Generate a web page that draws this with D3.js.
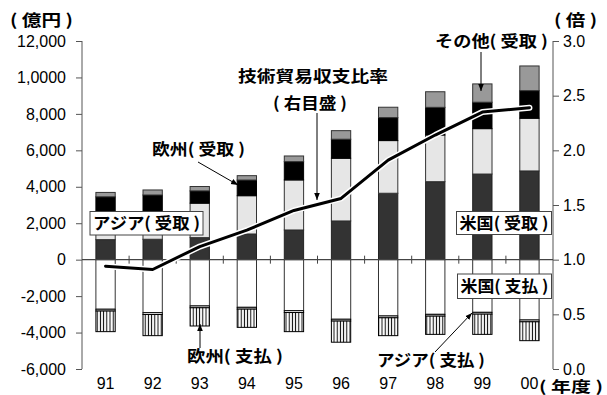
<!DOCTYPE html>
<html><head><meta charset="utf-8">
<script src="https://cdn.jsdelivr.net/npm/d3@7"></script>
<style>
body{margin:0;background:#fff;}
svg{display:block;}
.tick text{font-family:"Liberation Sans",Arial,sans-serif;font-size:16px;fill:#000;}
.jp{font-family:"Noto Sans CJK JP",sans-serif;font-weight:bold;font-size:16px;fill:#000;}
</style></head>
<body>
<svg id="c" width="607" height="395"></svg>
<script>
// ---- data ----
const years = ["91","92","93","94","95","96","97","98","99","00"];
const usRecv    = [1100,1120,1210,1410,1630,2125,3645,4280,4700,4870];
const asiaRecv  = [1150,1180,1890,2100,2745,3440,2890,2560,2490,2890];
const euRecv    = [1200,1250,675,860,1005,1045,1260,1520,1450,1515];
const otherRecv = [240,275,240,240,310,470,570,855,1005,1355];
const usPay     = [2720,2910,2540,2615,2800,3270,3090,3000,2890,3310];
const asiaPay   = [100,100,100,100,100,100,100,100,100,100];
const euPay     = [1130,1160,1000,1000,1050,1160,980,1000,1110,1035];
const ratio     = [0.94,0.91,1.12,1.27,1.45,1.56,1.91,2.14,2.35,2.39];
const leftTickValues = [-6000,-4000,-2000,0,2000,4000,6000,8000,10000,12000];
const leftTickLabels = ["-6,000","-4,000","-2,000","0","2,000","4,000","6,000","8,000","1,0000","12,000"];
const rightTickValues = [0,0.5,1.0,1.5,2.0,2.5,3.0];
const rightTickLabels = ["0.0","0.5","1.0","1.5","2.0","2.5","3.0"];

const svg = d3.select("#c");
const L = 82, R = 553, T = 41, B = 369;
const x = d3.scaleBand().domain(years).range([L, R]).paddingInner(0.59).paddingOuter(0.295);
const y = d3.scaleLinear().domain([-6000, 12000]).range([B, T]);
const y2 = d3.scaleLinear().domain([0, 3]).range([B, T]);

// hatch pattern
const defs = svg.append("defs");
const pat = defs.append("pattern").attr("id","hatch").attr("patternUnits","userSpaceOnUse")
  .attr("width",3.2).attr("height",10);
pat.append("rect").attr("width",3.2).attr("height",10).attr("fill","#fff");
pat.append("line").attr("x1",1.2).attr("x2",1.2).attr("y1",0).attr("y2",10).attr("stroke","#000").attr("stroke-width",1);
const mk = defs.append("marker").attr("id","arr").attr("viewBox","0 0 10 10").attr("refX",10).attr("refY",5)
  .attr("markerWidth",7).attr("markerHeight",7).attr("orient","auto-start-reverse").attr("markerUnits","userSpaceOnUse");
mk.append("path").attr("d","M0,1 L10,5 L0,9 z").attr("fill","#000");

// stacks
const posSeries = [
  {vals:usRecv, fill:"#333333", stroke:"#222"},
  {vals:asiaRecv, fill:"#e6e6e6", stroke:"#333"},
  {vals:euRecv, fill:"#000000", stroke:"#000"},
  {vals:otherRecv, fill:"#999999", stroke:"#333"}
];
const negSeries = [
  {vals:usPay, fill:"#ffffff", stroke:"#333"},
  {vals:asiaPay, fill:"#ffffff", stroke:"#000"},
  {vals:euPay, fill:"url(#hatch)", stroke:"#000"}
];
const gBars = svg.append("g");
years.forEach((yr, i) => {
  let acc = 0;
  posSeries.forEach(s => {
    const v = s.vals[i];
    gBars.append("rect").attr("x", x(yr)).attr("width", x.bandwidth())
      .attr("y", y(acc + v)).attr("height", y(acc) - y(acc + v))
      .attr("fill", s.fill).attr("stroke", s.stroke).attr("stroke-width", 1);
    acc += v;
  });
  acc = 0;
  negSeries.forEach(s => {
    const v = s.vals[i];
    gBars.append("rect").attr("x", x(yr)).attr("width", x.bandwidth())
      .attr("y", y(acc)).attr("height", y(acc - v) - y(acc))
      .attr("fill", s.fill).attr("stroke", s.stroke).attr("stroke-width", 1);
    acc -= v;
  });
});

// axes
const axL = svg.append("g").attr("transform",`translate(${L},0)`)
  .call(d3.axisLeft(y).tickValues(leftTickValues).tickFormat((d,i)=>leftTickLabels[i]).tickSize(6).tickSizeOuter(0).tickPadding(10));
const axR = svg.append("g").attr("transform",`translate(${R},0)`)
  .call(d3.axisRight(y2).tickValues(rightTickValues).tickFormat((d,i)=>rightTickLabels[i]).tickSize(6).tickSizeOuter(0).tickPadding(4));
[axL, axR].forEach(a => { a.selectAll("path,line").attr("stroke","#555"); a.select(".domain").attr("d",`M0,${T}V${B}`); });
const axB = svg.append("g").attr("transform",`translate(0,${B})`)
  .call(d3.axisBottom(x).tickSize(0).tickPadding(9));
axB.select(".domain").remove();

// zero line with category ticks
const y0 = y(0);
svg.append("line").attr("x1",L).attr("x2",R).attr("y1",y0).attr("y2",y0).attr("stroke","#444").attr("stroke-width",1.2);
const step = x.step();
for (let k = 1; k < years.length; k++) {
  const bx = L + k * step;
  svg.append("line").attr("x1",bx).attr("x2",bx).attr("y1",y0-4).attr("y2",y0+4).attr("stroke","#444");
}

// ratio line
const line = d3.line().x((d,i)=>x(years[i]) + x.bandwidth()/2).y(d=>y2(d));
svg.append("path").datum(ratio).attr("d",line).attr("fill","none").attr("stroke","#fff").attr("stroke-width",6).attr("stroke-linejoin","round").attr("stroke-linecap","round");
svg.append("path").datum(ratio).attr("d",line).attr("fill","none").attr("stroke","#000").attr("stroke-width",3).attr("stroke-linejoin","round").attr("stroke-linecap","round");

// boxed labels
function boxLabel(txt, x0, x1, yt, yb) {
  svg.append("rect").attr("x",x0).attr("y",yt).attr("width",x1-x0).attr("height",yb-yt)
    .attr("fill","#fff").attr("stroke","#444").attr("stroke-width",1);
  svg.append("text").attr("class","jp").attr("x",x0+3).attr("y",(yt+yb)/2+6)
    .attr("textLength",x1-x0-6).attr("lengthAdjust","spacingAndGlyphs").text(txt);
}
boxLabel("アジア( 受取 )", 90, 203, 211.5, 235);
boxLabel("米国( 受取 )", 456.5, 551.5, 211.5, 234.5);
boxLabel("米国( 支払 )", 457.5, 551.5, 274, 298.5);

// plain labels
function label(txt, x0, x1, base, fs) {
  const t = svg.append("text").attr("class","jp").attr("x",x0).attr("y",base)
    .attr("textLength",x1-x0).attr("lengthAdjust","spacingAndGlyphs").text(txt);
  if (fs) t.style("font-size", fs + "px");
}
label("( 億円 )", 10, 73, 26);
label("( 倍 )", 554, 597, 26);
label("その他( 受取 )", 435, 548, 47);
label("技術貿易収支比率", 238, 388, 82);
label("( 右目盛 )", 273, 347, 109);
label("欧州( 受取 )", 152, 245, 155);
label("欧州( 支払 )", 187, 283, 362);
label("アジア( 支払 )", 377, 485, 366);
label("( 年度 )", 539, 603, 392, 15);

// arrows
function arrow(x1, y1, x2, y2) {
  svg.append("line").attr("x1",x1).attr("y1",y1).attr("x2",x2).attr("y2",y2)
    .attr("stroke","#000").attr("stroke-width",1).attr("marker-end","url(#arr)");
}
arrow(481, 52, 481, 91);
arrow(317, 113, 317, 200);
arrow(198, 162, 238, 185);
arrow(200, 348, 200, 324);
arrow(435, 352, 472, 313);
</script>
</body></html>
